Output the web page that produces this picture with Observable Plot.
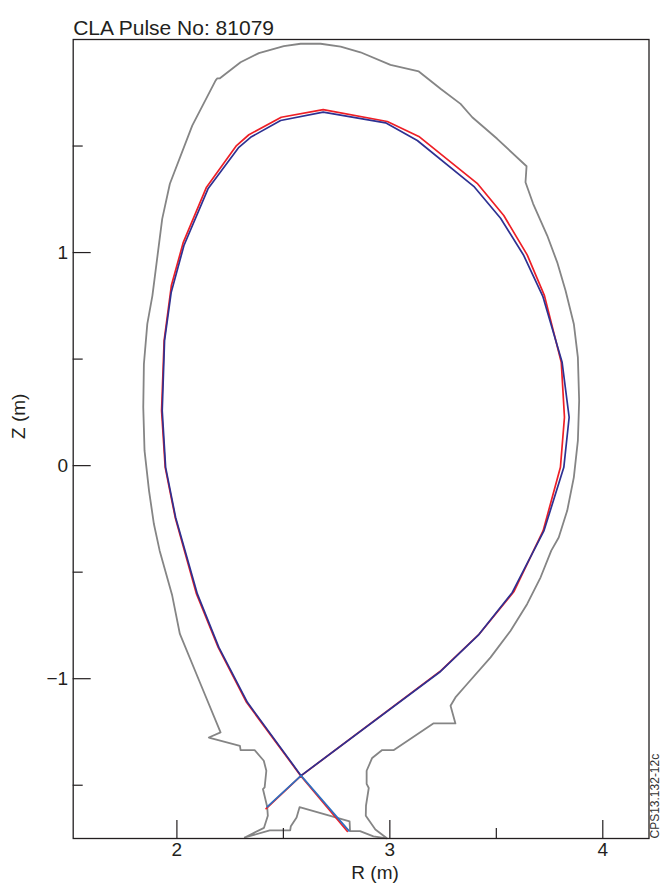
<!DOCTYPE html>
<html><head><meta charset="utf-8">
<script src="https://cdn.jsdelivr.net/npm/d3@7"></script>
<script src="https://cdn.jsdelivr.net/npm/@observablehq/plot@0.6"></script>
<style>body{margin:0;background:#fff;}</style>
</head><body><div id="chart"></div>
<script>
// Vessel wall (first wall + divertor), R and Z in metres
const wallR = [2.319,2.436,2.532,2.535,2.562,2.576,2.811,2.813,2.860,2.923,2.986,2.932,2.887,2.888,2.901,2.891,2.891,2.917,2.964,3.019,3.204,3.308,3.285,3.308,3.363,3.473,3.567,3.645,3.708,3.758,3.793,3.833,3.864,3.883,3.889,3.883,3.864,3.825,3.786,3.739,3.673,3.637,3.642,3.504,3.387,3.332,3.238,3.136,3.003,2.862,2.769,2.675,2.581,2.502,2.385,2.299,2.202,2.190,2.182,2.072,1.967,1.931,1.885,1.861,1.845,1.842,1.848,1.869,1.892,1.919,1.978,2.014,2.111,2.205,2.150,2.296,2.299,2.365,2.408,2.420,2.412,2.404,2.424,2.427,2.409,2.319];
const wallZ = [-1.745,-1.712,-1.712,-1.692,-1.651,-1.603,-1.670,-1.715,-1.715,-1.740,-1.749,-1.708,-1.643,-1.596,-1.513,-1.494,-1.432,-1.372,-1.335,-1.335,-1.210,-1.210,-1.127,-1.088,-1.025,-0.900,-0.775,-0.649,-0.524,-0.399,-0.337,-0.211,-0.055,0.117,0.305,0.508,0.665,0.822,0.954,1.080,1.229,1.330,1.405,1.534,1.635,1.698,1.769,1.850,1.881,1.940,1.967,1.980,1.980,1.969,1.936,1.893,1.818,1.818,1.808,1.596,1.323,1.158,0.798,0.665,0.477,0.274,0.070,-0.117,-0.274,-0.399,-0.610,-0.790,-1.025,-1.252,-1.276,-1.315,-1.335,-1.335,-1.385,-1.432,-1.510,-1.518,-1.601,-1.643,-1.700,-1.745];

// Separatrix, red trace
const redR = [2.419,2.581,3.240,3.421,3.582,3.720,3.801,3.820,3.805,3.726,3.645,3.535,3.410,3.136,2.988,2.687,2.490,2.338,2.280,2.139,2.030,1.974,1.940,1.928,1.945,1.992,2.092,2.194,2.327,2.581,2.800];
const redZ = [-1.610,-1.457,-0.962,-0.789,-0.592,-0.305,-0.008,0.227,0.485,0.798,0.989,1.174,1.325,1.545,1.615,1.671,1.635,1.553,1.502,1.307,1.048,0.845,0.587,0.258,-0.008,-0.243,-0.602,-0.853,-1.111,-1.455,-1.716];

// Separatrix, blue trace
const blueR = [2.424,2.583,3.238,3.418,3.575,3.724,3.817,3.842,3.809,3.719,3.629,3.520,3.394,3.129,2.980,2.687,2.487,2.346,2.291,2.146,2.033,1.973,1.942,1.931,1.947,1.994,2.096,2.197,2.331,2.583,2.808];
const blueZ = [-1.601,-1.455,-0.966,-0.793,-0.595,-0.305,-0.008,0.227,0.485,0.793,0.986,1.161,1.311,1.526,1.609,1.659,1.620,1.541,1.494,1.299,1.033,0.812,0.587,0.258,-0.008,-0.243,-0.602,-0.853,-1.111,-1.455,-1.714];

const xMajor = [2, 3, 4];
const xMinor = [2.5, 3.5];
const yMajor = [-1, 0, 1];
const yMinor = [-1.5, -0.5, 0.5, 1.5];
const titleText = "CLA Pulse No: 81079";
const xLabel = "R (m)";
const yLabel = "Z (m)";
const codeText = "CPS13.132-12c";

const W = 662, H = 895;
const mL = 72.7, mR = 13.5, mT = 39, mB = 57;
const fw = W - mL - mR, fh = H - mT - mB;
const ink = "#231f20";
const fmt = d => (d < 0 ? "\u2212" : "") + Math.abs(d);

const idx = a => d3.range(a.length);
const legA = [0, 1], legB = [blueR.length - 2, blueR.length - 1];
const core = d3.range(1, blueR.length - 1);

const chart = Plot.plot({
  width: W, height: H,
  marginLeft: mL, marginRight: mR, marginTop: mT, marginBottom: mB,
  x: {domain: [1.513, 4.217]},
  y: {domain: [-1.75, 2.0]},
  style: {fontFamily: "'Liberation Sans', Arial, Helvetica, sans-serif", background: "#fff", color: ink, overflow: "visible"},
  marks: [
    Plot.line(idx(wallR), {x: i => wallR[i], y: i => wallZ[i], stroke: "#858585", strokeWidth: 1.8, strokeLinejoin: "round"}),
    Plot.line(idx(redR), {x: i => redR[i], y: i => redZ[i], stroke: "#ee1f26", strokeWidth: 1.7, strokeLinejoin: "round"}),
    Plot.line(core, {x: i => blueR[i], y: i => blueZ[i], stroke: "#2e3192", strokeWidth: 1.7, strokeLinejoin: "round"}),
    Plot.line(legA, {x: i => blueR[i], y: i => blueZ[i], stroke: "#2f6fc0", strokeWidth: 1.7}),
    Plot.line(legB, {x: i => blueR[i], y: i => blueZ[i], stroke: "#2f6fc0", strokeWidth: 1.7}),
    Plot.ruleX(xMajor, {x: d => d, insetTop: fh - 18, stroke: ink, strokeWidth: 1.2}),
    Plot.ruleX(xMinor, {x: d => d, insetTop: fh - 10, stroke: ink, strokeWidth: 1.2}),
    Plot.ruleY(yMajor, {y: d => d, insetRight: fw - 18, stroke: ink, strokeWidth: 1.2}),
    Plot.ruleY(yMinor, {y: d => d, insetRight: fw - 10, stroke: ink, strokeWidth: 1.2}),
    Plot.frame({stroke: ink, strokeWidth: 1.3}),
    Plot.axisX({ticks: xMajor, tickSize: 0, tickPadding: 4, fontSize: 19, tickFormat: fmt, label: null}),
    Plot.axisY({ticks: yMajor, tickSize: 0, tickPadding: 5, fontSize: 19, tickFormat: fmt, label: null}),
    Plot.text([xLabel], {frameAnchor: "bottom", dx: 14, dy: 40, fontSize: 19, fill: ink}),
    Plot.text([yLabel], {frameAnchor: "left", dx: -54, rotate: -90, fontSize: 19, fill: ink}),
    Plot.text([titleText], {frameAnchor: "top-left", dy: -19, textAnchor: "start", fontSize: 21, fill: ink}),
    Plot.text([codeText], {frameAnchor: "bottom-right", dx: 10, rotate: -90, textAnchor: "start", fontSize: 12, fill: "#333"})
  ]
});
document.getElementById("chart").appendChild(chart);
</script>
</body></html>
